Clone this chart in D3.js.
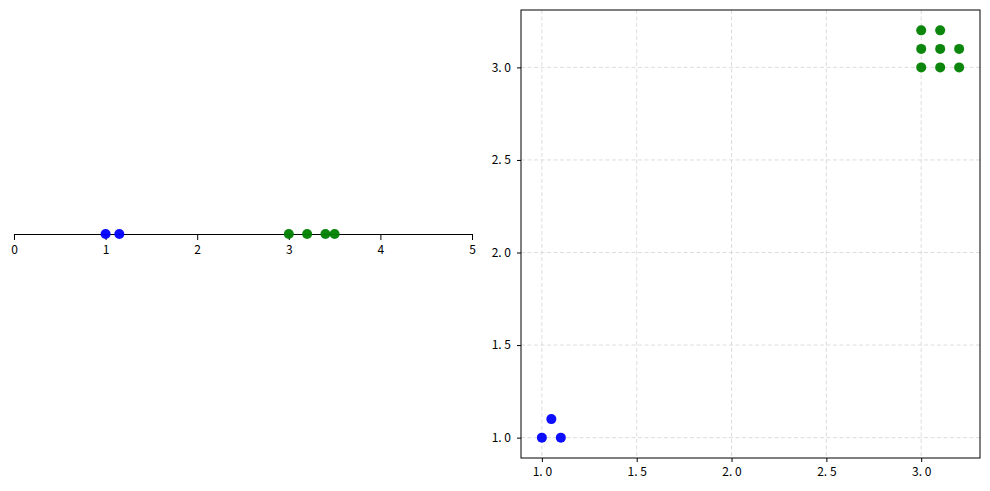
<!DOCTYPE html>
<html>
<head>
<meta charset="utf-8">
<script src="https://cdn.jsdelivr.net/npm/d3@7"></script>
<style>
  body { margin: 0; background: #fff; }
  text { font-family: "Noto Sans CJK SC", "DejaVu Sans", sans-serif; }
</style>
</head>
<body>
<svg id="lienzo" width="990" height="491"></svg>
<script>
// number line (left panel)
const lineBlue = [1.0, 1.15];
const lineGreen = [3.0, 3.2, 3.4, 3.5];
const lineTicks = [0, 1, 2, 3, 4, 5];

// scatter (right panel)
const blueX = [1.0, 1.05, 1.1];
const blueY = [1.0, 1.1, 1.0];
const greenX = [3.0, 3.1, 3.2, 3.0, 3.1, 3.2, 3.0, 3.1];
const greenY = [3.0, 3.0, 3.0, 3.1, 3.1, 3.1, 3.2, 3.2];
const xTicks = [1.0, 1.5, 2.0, 2.5, 3.0];
const yTicks = [1.0, 1.5, 2.0, 2.5, 3.0];

const svg = d3.select("#lienzo");
const fmt = d => d.toFixed(1).replace(".", ". ");
const fontFam = "'Noto Sans CJK SC', 'DejaVu Sans', sans-serif";

// ---- left: number line ----
const xLine = d3.scaleLinear().domain([0, 5]).range([14, 472]);
const lineY = 234;

const gLine = svg.append("g").attr("transform", "translate(0," + lineY + ")");
gLine.call(d3.axisBottom(xLine).tickValues(lineTicks).tickFormat(d3.format("d")).tickSizeOuter(0).tickSize(6).tickPadding(5));
gLine.select(".domain").attr("stroke", "#000").attr("stroke-width", 1);
gLine.selectAll("text").attr("font-size", 12).attr("fill", "#000").attr("font-family", fontFam);

svg.append("g").selectAll("circle")
  .data(lineBlue).enter().append("circle")
  .attr("cx", d => xLine(d)).attr("cy", lineY).attr("r", 5)
  .attr("fill", "blue").attr("fill-opacity", 0.95);

svg.append("g").selectAll("circle")
  .data(lineGreen).enter().append("circle")
  .attr("cx", d => xLine(d)).attr("cy", lineY).attr("r", 5)
  .attr("fill", "green").attr("fill-opacity", 0.95);

// ---- right: scatter ----
const pLeft = 521, pRight = 980, pTop = 10, pBottom = 458;
const xScale = d3.scaleLinear().domain([0.89, 3.31]).range([pLeft, pRight]);
const yScale = d3.scaleLinear().domain([0.89, 3.31]).range([pBottom, pTop]);

// grid
svg.append("g").selectAll("line")
  .data(xTicks).enter().append("line")
  .attr("x1", d => xScale(d)).attr("x2", d => xScale(d))
  .attr("y1", pTop).attr("y2", pBottom)
  .attr("stroke", "#d4d4d4").attr("stroke-dasharray", "4,2.5").attr("stroke-width", 0.8);
svg.append("g").selectAll("line")
  .data(yTicks).enter().append("line")
  .attr("y1", d => yScale(d)).attr("y2", d => yScale(d))
  .attr("x1", pLeft).attr("x2", pRight)
  .attr("stroke", "#d4d4d4").attr("stroke-dasharray", "4,2.5").attr("stroke-width", 0.8);

const gx = svg.append("g").attr("transform", "translate(0," + pBottom + ")")
  .call(d3.axisBottom(xScale).tickValues(xTicks).tickFormat(fmt).tickSizeOuter(0).tickSize(4).tickPadding(5));
const gy = svg.append("g").attr("transform", "translate(" + pLeft + ",0)")
  .call(d3.axisLeft(yScale).tickValues(yTicks).tickFormat(fmt).tickSizeOuter(0).tickSize(4).tickPadding(6));
[gx, gy].forEach(g => {
  g.select(".domain").remove();
  g.selectAll("text").attr("font-size", 12).attr("fill", "#000").attr("font-family", fontFam);
});

svg.append("rect")
  .attr("x", pLeft).attr("y", pTop)
  .attr("width", pRight - pLeft).attr("height", pBottom - pTop)
  .attr("fill", "none").attr("stroke", "#000").attr("stroke-width", 1);

svg.append("g").selectAll("circle")
  .data(blueX).enter().append("circle")
  .attr("cx", d => xScale(d)).attr("cy", (d, i) => yScale(blueY[i])).attr("r", 5)
  .attr("fill", "blue").attr("fill-opacity", 0.95);

svg.append("g").selectAll("circle")
  .data(greenX).enter().append("circle")
  .attr("cx", d => xScale(d)).attr("cy", (d, i) => yScale(greenY[i])).attr("r", 5)
  .attr("fill", "green").attr("fill-opacity", 0.95);
</script>
</body>
</html>
